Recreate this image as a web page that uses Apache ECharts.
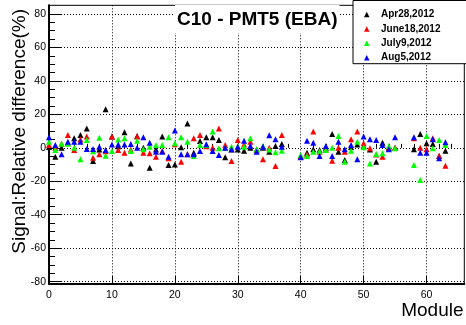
<!DOCTYPE html>
<html><head><meta charset="utf-8">
<script src="https://cdn.jsdelivr.net/npm/echarts@6/dist/echarts.min.js"></script>
<style>html,body{margin:0;padding:0;background:#fff}#c{width:466px;height:325px}</style>
</head><body><div id="c"></div>
<script>
const modules = [0,1,2,3,4,5,6,7,8,9,10,11,12,13,14,15,16,17,18,19,20,21,22,23,24,25,26,27,28,29,30,31,32,33,34,35,36,37,38,39,40,41,42,43,44,45,46,47,48,49,50,51,52,53,54,55,56,57,58,59,60,61,62,63];
const categories = ['Apr28,2012','June18,2012','July9,2012','Aug5,2012'];
const apr28 = [0.5,-5.3,0,3,5.7,7.7,11.6,-7.9,-1,23,6.7,1,9.3,-9.3,7,0,-11.9,-1,6.7,-10.3,-9.9,0.3,14.6,-2.9,4.1,6.3,6.3,4.7,-5.7,-1,-1,-1.7,0,-0.9,0,-2.3,1.1,2.3,null,null,-5,-3,-0.9,-1.3,0,8.3,-2.3,-7.3,0.5,2,1,-1,-8.3,3.1,0,0,null,null,-0.9,8.3,2.7,2.3,-4.9,-1.7];
const june18 = [1.7,0,2.5,7.7,-1.3,5,6.7,-5.9,-3.9,-2,6.7,-1.3,-2.9,-1,6.7,-2.9,-3.3,-5.3,-1.9,-6.3,2.1,-8.3,-3.9,5.7,7.7,1,0,11.6,1.7,-7.9,4.7,2,3.7,-1.5,-6.9,0,-10.9,7.7,null,null,-5,-4,9.7,-2.3,-1,-7.7,0,-2.3,5.1,9.7,2.7,-0.3,-4,-5.3,0,0,null,null,5.7,0,-0.9,5.7,-4.9,-10.7];
const july9 = [3.7,-1.3,2.5,2.5,0,-6.9,4.7,-2,6,-4.7,-1.9,5,5.7,-1.9,4.3,-0.9,0.7,1.7,1.7,6.3,2.7,6.3,3.7,-4.9,1.7,1.7,9.7,-0.3,0,0.7,1,0.7,5.7,-1,1,-1,-2.7,-1.7,null,null,-4.3,-4.9,-2.3,-2,-1.3,0,7.1,-8.3,-1.7,3.7,0.3,-9.3,-3.7,-3.3,1.1,-0.3,null,null,-10.3,-19.2,7.1,-0.3,4.7,1.7];
const aug5 = [6.3,1.7,-3.9,3.7,3.7,3.7,-0.7,-0.7,0.7,-1.3,2,2,2,2.3,0,6.3,3.1,-2.3,-2.3,-5.3,10.3,-3.9,-3.9,-3.9,-1.9,2.1,-1.9,-4.3,0,-0.9,0.7,4.3,1.3,-2.3,0.7,7.5,5.1,0.7,null,null,-5.7,4.3,3.1,-4.9,1.1,-4.9,3.7,-0.9,1.7,-6.9,6.7,5.1,4.7,1.7,-0.9,6.3,null,null,6.3,-2.9,-2.9,5.1,-6.3,3.3];
const xTicks = [0,10,20,30,40,50,60];
const xMinorTicks = [2,4,6,8,12,14,16,18,22,24,26,28,32,34,36,38,42,44,46,48,52,54,56,58,62,64];
const yTicks = [-80,-60,-40,-20,0,20,40,60,80];
const yMinorTicks = [-75,-70,-65,-55,-50,-45,-35,-30,-25,-15,-10,-5,5,10,15,25,30,35,45,50,55,65,70,75];

const font = '"Liberation Sans", Arial, Helvetica, sans-serif';
const colors = ['#000000','#ff0000','#00ff00','#0000ff'];
const seriesValues = [apr28, june18, july9, aug5];
function pairs(arr){ const out=[]; arr.forEach((v,i)=>{ if(v!==null) out.push([modules[i], v]); }); return out; }

const chart = echarts.init(document.getElementById('c'), null, {renderer:'canvas'});
const option = {
  animation:false,
  backgroundColor:'#fff',
  title:{ text:'C10 - PMT5 (EBA)', left:175, top:5, padding:[5,2,4,2], backgroundColor:'#fff',
    textStyle:{fontFamily:font, fontSize:19, fontWeight:'bold', color:'#000'} },
  legend:{ orient:'vertical', left:353, top:0.5, padding:[9,27,1,11], itemGap:4.4, itemWidth:5.5, itemHeight:5.5,
    icon:'triangle', borderColor:'#000', borderWidth:1, backgroundColor:'#fff', selectedMode:false,
    formatter: name => '{t|' + name + '}',
    textStyle:{fontFamily:font, fontSize:10, fontWeight:'bold', color:'#000', lineHeight:10,
      rich:{t:{fontFamily:font, fontSize:10, fontWeight:'bold', color:'#000', lineHeight:10, padding:[0,0,0,6.5]}}},
    data:categories },
  grid:{ left:49, right:1.7, top:5.3, bottom:41, show:true, borderColor:'#000', borderWidth:1, outerBoundsMode:'none' },
  xAxis:[
    {type:'value', min:0, max:66, position:'bottom',
     axisLine:{show:true, onZero:false, lineStyle:{color:'#000', width:2}},
     axisTick:{show:true, inside:true, length:8, customValues:xTicks, lineStyle:{color:'#000', width:1}},
     axisLabel:{customValues:xTicks, margin:6, fontFamily:font, fontSize:10.5, color:'#000'},
     splitLine:{show:true, lineStyle:{color:'#000', width:1, type:[1,2]}}},
    {type:'value', min:0, max:66, position:'bottom',
     axisLine:{show:false}, axisLabel:{show:false}, splitLine:{show:false},
     axisTick:{show:true, inside:true, length:4, customValues:xMinorTicks, lineStyle:{color:'#000', width:1}}}
  ],
  yAxis:[
    {type:'value', min:-81.4, max:85.2, position:'left',
     axisLine:{show:true, onZero:false, lineStyle:{color:'#000', width:2}},
     axisTick:{show:true, inside:true, length:12, customValues:yTicks, lineStyle:{color:'#000', width:1}},
     axisLabel:{customValues:yTicks, margin:3, fontFamily:font, fontSize:10.5, color:'#000'},
     splitLine:{show:true, lineStyle:{color:'#000', width:1, type:[1,2]}}},
    {type:'value', min:-81.4, max:85.2, position:'left',
     axisLine:{show:false}, axisLabel:{show:false}, splitLine:{show:false},
     axisTick:{show:true, inside:true, length:6, customValues:yMinorTicks, lineStyle:{color:'#000', width:1}}}
  ],
  graphic:[
    {type:'text', x:29, y:9, rotation:Math.PI/2,
     style:{text:'Signal:Relative difference(%)', font:'19px ' + font, fill:'#000', align:'right', verticalAlign:'bottom'}},
    {type:'text', x:463.5, y:301,
     style:{text:'Module', font:'19px ' + font, fill:'#000', align:'right', verticalAlign:'top'}}
  ],
  series: categories.map((name, k) => ({
    name:name, type:'scatter', xAxisIndex:0, yAxisIndex:0, symbol:'triangle', symbolSize:6, clip:false,
    itemStyle:{color:colors[k], opacity:1}, data:pairs(seriesValues[k])
  }))
};
chart.setOption(option);
</script></body></html>
